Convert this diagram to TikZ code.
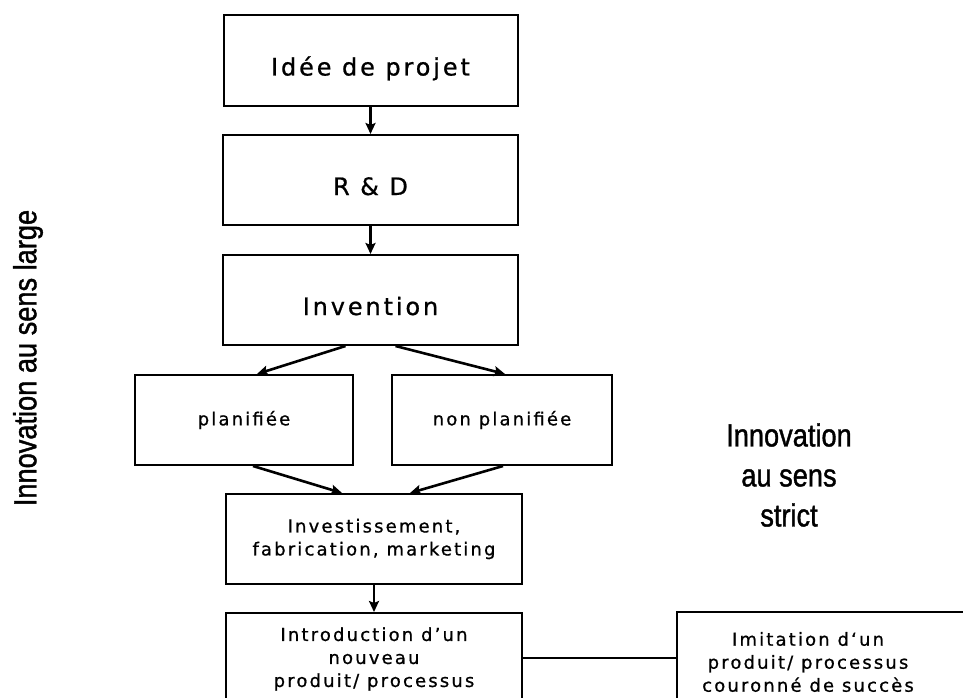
\documentclass[tikz,border=0pt]{standalone}
\usepackage{fontspec}
\setmainfont{DejaVu Sans}
\newfontfamily\boxfont[LetterSpace=12,FakeBold=0.8]{DejaVu Sans}
\newfontfamily\sidefont[FakeStretch=0.85,FakeBold=1.2]{Liberation Sans}
\usetikzlibrary{arrows.meta}
\begin{document}
\begin{tikzpicture}[x=1pt,y=-1pt,
  flowbox/.style={draw, line width=2pt, inner sep=0pt, align=center,
    minimum height=90pt},
  bigtxt/.style={font=\boxfont\fontsize{24}{29}\selectfont, text height=32pt, text depth=2pt},
  smalltxt/.style={font=\boxfont\fontsize{18}{23}\selectfont},
  sidetxt/.style={font=\sidefont\fontsize{32}{40}\selectfont, align=center, inner sep=0pt},
  arr/.style={-{Stealth[length=11pt,width=10pt,inset=2pt]}, line width=2.6pt},
  link/.style={line width=2pt}]
\useasboundingbox (0,0) rectangle (963,698);
\fill[white] (0,0) rectangle (963,698);
\clip (0,0) rectangle (963,698);

\node[flowbox, bigtxt, minimum width=294pt, minimum height=91pt] (b1) at (370.5,60.5) {Idée de projet};
\node[flowbox, bigtxt, minimum width=295pt] (b2) at (370.5,180) {R \& D};
\node[flowbox, bigtxt, minimum width=295pt] (b3) at (370.5,300) {Invention};
\node[flowbox, smalltxt, minimum width=218pt] (plan) at (244,420) {planifiée};
\node[flowbox, smalltxt, minimum width=220pt] (nonplan) at (502,420) {non planifiée};
\node[flowbox, smalltxt, minimum width=296pt] (invest) at (374,539) {Investissement,\\fabrication, marketing};
\node[flowbox, smalltxt, minimum width=296pt, minimum height=92pt] (intro) at (374,659) {Introduction d’un\\nouveau\\produit/ processus};
\node[flowbox, minimum width=308pt, minimum height=92pt] (imit) at (831,658) {};
\node[smalltxt, align=center, inner sep=0pt] (imittxt) at (808,662) {Imitation d‘un\\produit/ processus\\couronné de succès};

\node[sidetxt, rotate=90] (large) at (28,358) {Innovation au sens large};
\node[sidetxt] (strict) at (789,475) {Innovation\\au sens\\strict};

\draw[arr] (b1) -- (b2);
\draw[arr] (b2) -- (b3);
\draw[arr] ([xshift=-25pt]b3.south) -- ([xshift=13pt]plan.north);
\draw[arr] ([xshift=25pt]b3.south) -- ([xshift=3pt]nonplan.north);
\draw[arr] ([xshift=9pt]plan.south) -- ([xshift=-32pt]invest.north);
\draw[arr] ([xshift=1pt]nonplan.south) -- ([xshift=36pt]invest.north);
\draw[arr] (invest) -- (intro);
\draw[link] (intro.east |- imit.west) -- (imit.west);
\end{tikzpicture}
\end{document}
